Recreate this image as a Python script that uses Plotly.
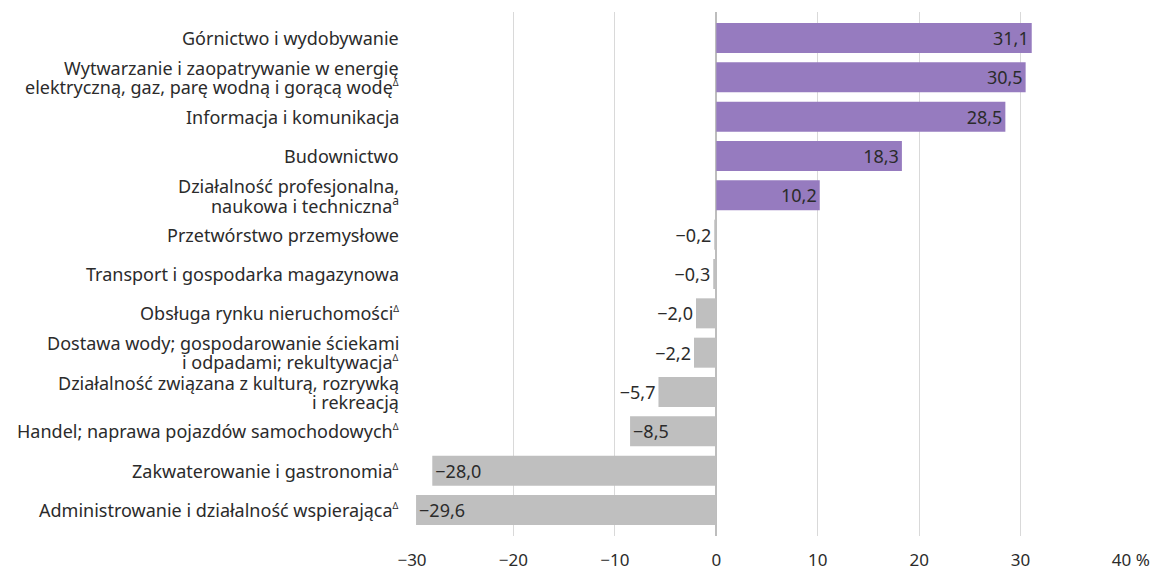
import plotly.graph_objects as go

SUP_D = "<sup><span style='font-size:9px'>Δ</span></sup>"
SUP_A = "<sup><span style='font-size:12px'>a</span></sup>"

categories = [
    "Górnictwo i wydobywanie",
    "Wytwarzanie i zaopatrywanie w energię<br>elektryczną, gaz, parę wodną i gorącą wodę" + SUP_D,
    "Informacja i komunikacja",
    "Budownictwo",
    "Działalność profesjonalna,<br>naukowa i techniczna" + SUP_A,
    "Przetwórstwo przemysłowe",
    "Transport i gospodarka magazynowa",
    "Obsługa rynku nieruchomości" + SUP_D,
    "Dostawa wody; gospodarowanie ściekami<br>i odpadami; rekultywacja" + SUP_D,
    "Działalność związana z kulturą, rozrywką<br>i rekreacją",
    "Handel; naprawa pojazdów samochodowych" + SUP_D,
    "Zakwaterowanie i gastronomia" + SUP_D,
    "Administrowanie i działalność wspierająca" + SUP_D,
]
values = [31.1, 30.5, 28.5, 18.3, 10.2, -0.2, -0.3, -2.0, -2.2, -5.7, -8.5, -28.0, -29.6]
tick_vals = [-30, -20, -10, 0, 10, 20, 30, 40]
tick_text = ["−30", "−20", "−10", "0", "10", "20", "30", "\u00a0\u00a0\u00a0\u00a040\u00a0%"]

POS_COLOR = "#967BBF"
NEG_COLOR = "#BFBFBF"
TEXT_COLOR = "#2B2B2B"
FONT = "Noto Sans"
LABEL_SIZE = 18

colors = [POS_COLOR if v >= 0 else NEG_COLOR for v in values]
labels = [f"{v:.1f}".replace(".", ",").replace("-", "−") for v in values]
positions = ["inside" if abs(v) >= 8 else "outside" for v in values]

fig = go.Figure(
    go.Bar(
        x=values,
        y=categories,
        orientation="h",
        marker=dict(color=colors, line=dict(width=0)),
        text=labels,
        textposition=positions,
        insidetextanchor="end",
        textangle=0,
        constraintext="none",
        cliponaxis=False,
        textfont=dict(family=FONT, size=LABEL_SIZE, color=TEXT_COLOR),
        insidetextfont=dict(family=FONT, size=LABEL_SIZE, color=TEXT_COLOR),
        outsidetextfont=dict(family=FONT, size=LABEL_SIZE, color=TEXT_COLOR),
        hoverinfo="skip",
    )
)

# Category labels drawn as annotations so that two-line labels keep tight line spacing
LINE_GAP = 19
for cat in categories:
    lines = cat.split("<br>")
    n = len(lines)
    for i, line in enumerate(lines):
        shift = ((n - 1) / 2 - i) * LINE_GAP
        fig.add_annotation(
            x=0, xref="paper", y=cat, yref="y",
            text=line, showarrow=False,
            xanchor="right", yanchor="middle",
            xshift=-11, yshift=shift,
            font=dict(family=FONT, size=LABEL_SIZE, color=TEXT_COLOR),
            align="right",
        )

fig.update_layout(
    width=1154,
    height=571,
    margin=dict(l=412, r=32, t=12, b=35, autoexpand=False),
    paper_bgcolor="white",
    plot_bgcolor="white",
    bargap=0.237,
    showlegend=False,
    font=dict(family=FONT, size=17, color=TEXT_COLOR),
    xaxis=dict(
        range=[-30, 40],
        tickvals=tick_vals,
        ticktext=tick_text,
        showgrid=True,
        gridcolor="#D9D9D9",
        gridwidth=1.3,
        zeroline=True,
        zerolinecolor="#BDBDBD",
        zerolinewidth=2,
        showline=False,
        ticks="",
        ticklabelstandoff=12,
        automargin=False,
        tickfont=dict(family=FONT, size=17, color=TEXT_COLOR),
        fixedrange=True,
    ),
    yaxis=dict(
        categoryorder="array",
        categoryarray=categories,
        autorange=False,
        range=[12.66, -0.66],
        showgrid=False,
        zeroline=False,
        showline=False,
        ticks="",
        showticklabels=False,
        automargin=False,
        fixedrange=True,
    ),
)

fig.write_html(
    "out.html",
    config={"displayModeBar": False},
    post_script="document.body.style.margin='0';document.body.style.overflow='hidden';",
)
